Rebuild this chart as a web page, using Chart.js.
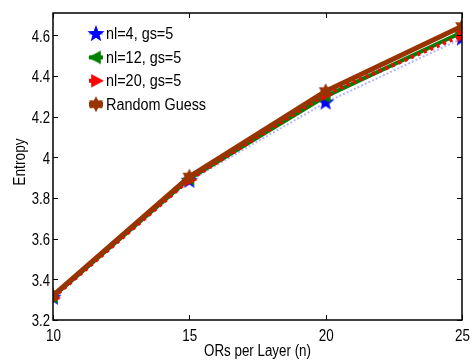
<!DOCTYPE html>
<html>
<head>
<meta charset="utf-8">
<script src="https://cdn.jsdelivr.net/npm/chart.js@4"></script>
<style>
  html, body { margin: 0; padding: 0; background: #fff; }
  #wrap { width: 475px; height: 362px; }
</style>
</head>
<body>
<div id="wrap"><canvas id="chart" width="475" height="362"></canvas></div>
<script>
// data
const orsPerLayer = [10, 15, 20, 25];
const nl4 = [3.31, 3.885, 4.27, 4.585];
const nl12 = [3.315, 3.895, 4.30, 4.615];
const nl20 = [3.31, 3.89, 4.31, 4.60];
const randomGuess = [3.32, 3.905, 4.325, 4.645];
const seriesNames = ["nl=4, gs=5", "nl=12, gs=5", "nl=20, gs=5", "Random Guess"];
const xTicks = [10, 15, 20, 25];
const yTicks = [3.2, 3.4, 3.6, 3.8, 4.0, 4.2, 4.4, 4.6];
const xTitle = "ORs per Layer (n)";
const yTitle = "Entropy";

const FONT = "16px 'Liberation Sans', Arial, sans-serif";

// little marker images
function starImg(n, r, inner, color, rot){
  const s = Math.ceil(r * 2 + 2);
  const c = document.createElement("canvas");
  c.width = s; c.height = s;
  const g = c.getContext("2d");
  g.fillStyle = color;
  g.beginPath();
  for(let i = 0; i < n * 2; i++){
    const a = rot + i * Math.PI / n;
    const rr = i % 2 ? r * inner : r;
    g.lineTo(s / 2 + rr * Math.sin(a), s / 2 - rr * Math.cos(a));
  }
  g.closePath();
  g.fill();
  return c;
}
function triImg(r, color, dir){
  const s = Math.ceil(r * 2 + 2);
  const c = document.createElement("canvas");
  c.width = s; c.height = s;
  const g = c.getContext("2d");
  g.fillStyle = color;
  g.beginPath();
  const m = s / 2;
  if(dir < 0){
    g.moveTo(m - r, m); g.lineTo(m + r * 0.6, m - r * 0.85); g.lineTo(m + r * 0.6, m + r * 0.85);
  } else {
    g.moveTo(m + r, m); g.lineTo(m - r * 0.6, m - r * 0.85); g.lineTo(m - r * 0.6, m + r * 0.85);
  }
  g.closePath();
  g.fill();
  return c;
}

const blueStar = starImg(5, 9, 0.42, "#0000ff", 0);
const greenTri = triImg(8, "#008000", -1);
const redTri = triImg(8, "#ff0000", 1);
const brownStar = starImg(6, 8, 0.55, "#993300", 0);

const datasets = [
  { label: seriesNames[0], data: nl4, borderColor: "rgba(90,90,255,0.45)", borderWidth: 2,
    borderDash: [2, 2], pointStyle: blueStar, order: 4 },
  { label: seriesNames[1], data: nl12, borderColor: "#008000", borderWidth: 4,
    pointStyle: greenTri, order: 3 },
  { label: seriesNames[2], data: nl20, borderColor: "#ff0000", borderWidth: 4,
    borderDash: [3, 4], pointStyle: redTri, order: 2 },
  { label: seriesNames[3], data: randomGuess, borderColor: "#993300", borderWidth: 5,
    pointStyle: brownStar, order: 1 }
];
datasets.forEach(d => {
  d.data = d.data.map((y, i) => ({ x: orsPerLayer[i], y }));
  d.tension = 0;
  d.fill = false;
  d.pointRadius = 8;
  d.pointHoverRadius = 8;
});

// narrow text, like the reference's condensed Helvetica
function text(g, str, x, y, align, sx, rot){
  g.save();
  g.translate(x, y);
  if(rot) g.rotate(rot);
  g.scale(sx, 1);
  g.font = FONT;
  g.fillStyle = "#000";
  g.textAlign = align;
  g.textBaseline = "middle";
  g.fillText(str, 0, 0);
  g.restore();
}

// frame, inward ticks, labels and legend
const framePlugin = {
  id: "frame",
  afterDatasetsDraw(chart){
    const g = chart.ctx, a = chart.chartArea;
    const xs = chart.scales.x, ys = chart.scales.y;
    g.save();
    g.strokeStyle = "#000";
    g.lineWidth = 1.5;
    g.strokeRect(a.left, a.top, a.right - a.left, a.bottom - a.top);
    g.lineWidth = 1;
    g.beginPath();
    xTicks.forEach(v => {
      const x = Math.round(xs.getPixelForValue(v)) + 0.5;
      g.moveTo(x, a.bottom); g.lineTo(x, a.bottom - 5);
      g.moveTo(x, a.top); g.lineTo(x, a.top + 5);
    });
    yTicks.forEach(v => {
      const y = Math.round(ys.getPixelForValue(v)) + 0.5;
      g.moveTo(a.left, y); g.lineTo(a.left + 5, y);
      g.moveTo(a.right, y); g.lineTo(a.right - 5, y);
    });
    g.stroke();

    xTicks.forEach(v => text(g, String(v), xs.getPixelForValue(v) + 0.5, a.bottom + 17, "center", 0.84));
    yTicks.forEach(v => text(g, String(+v.toFixed(1)), a.left - 3, ys.getPixelForValue(v) + 2, "right", 0.82));
    text(g, xTitle, (a.left + a.right) / 2, a.bottom + 32, "center", 0.835);
    text(g, yTitle, 21, 162, "center", 0.86, -Math.PI / 2);

    // legend inside the plot
    const lx = 89, ly0 = 34, step = 23.4;
    chart.data.datasets.forEach((d, i) => {
      const y = ly0 + i * step;
      g.save();
      g.strokeStyle = d.borderColor;
      g.lineWidth = d.borderWidth;
      g.setLineDash(d.borderDash || []);
      g.beginPath();
      g.moveTo(lx, y); g.lineTo(lx + 14, y);
      g.stroke();
      g.restore();
      const img = d.pointStyle;
      g.drawImage(img, lx + 7 - img.width / 2, y - img.height / 2);
      text(g, d.label, lx + 17, y + 1, "left", 0.9);
    });
    g.restore();
  }
};

new Chart(document.getElementById("chart"), {
  type: "line",
  data: { datasets },
  options: {
    responsive: false,
    animation: false,
    layout: { padding: { top: 7, right: 12, left: 0, bottom: 0 } },
    plugins: { legend: { display: false }, tooltip: { enabled: false } },
    scales: {
      x: {
        type: "linear", min: 10, max: 25,
        afterBuildTicks: s => { s.ticks = xTicks.map(v => ({ value: v })); },
        afterFit: s => { s.height = 42; },
        grid: { display: false, drawTicks: false },
        border: { display: false },
        ticks: { display: false }
      },
      y: {
        type: "linear", min: 3.2, max: 4.71,
        afterBuildTicks: s => { s.ticks = yTicks.map(v => ({ value: v })); },
        afterFit: s => { s.width = 53; },
        grid: { display: false, drawTicks: false },
        border: { display: false },
        ticks: { display: false }
      }
    }
  },
  plugins: [framePlugin]
});
</script>
</body>
</html>
